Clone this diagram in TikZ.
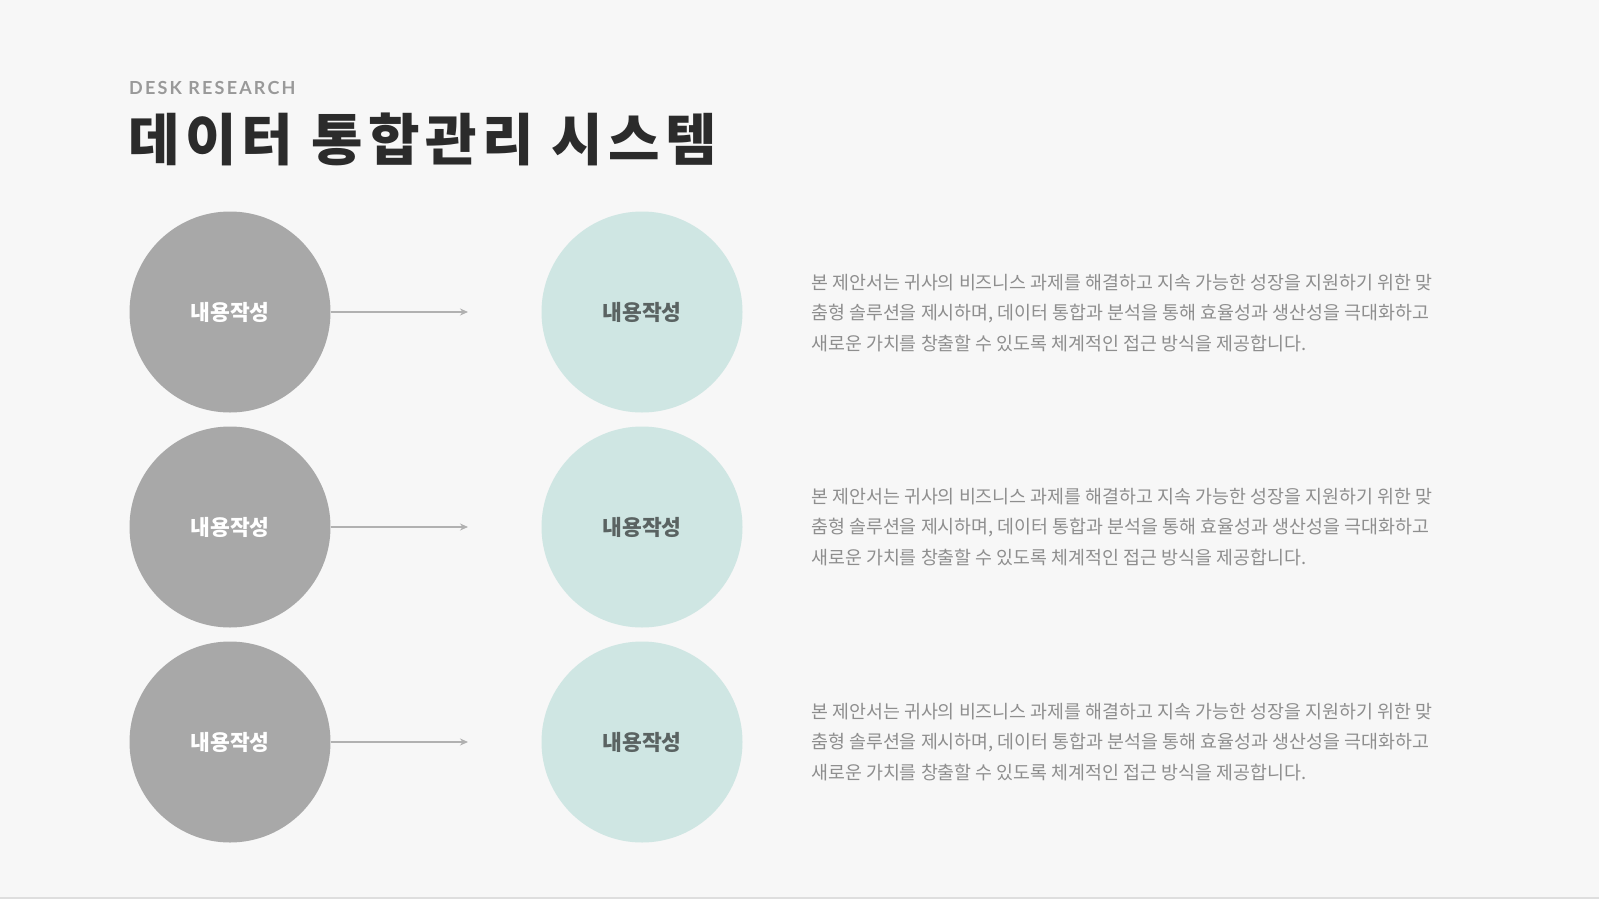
\documentclass[tikz,border=0pt]{standalone}
\usepackage{fontspec}
\newfontfamily\krfont{Noto Sans CJK KR}
\newfontfamily\latfont{Lato}
\usetikzlibrary{arrows.meta}
\definecolor{bgpage}{HTML}{F7F7F7}
\definecolor{circgray}{HTML}{A8A8A8}
\definecolor{circteal}{HTML}{CFE6E3}
\definecolor{labeldark}{HTML}{5A6362}
\definecolor{bodygray}{HTML}{8E8E8E}
\definecolor{titledark}{HTML}{2B2B2B}
\tikzset{
	graycirc/.style={circle, fill=circgray, minimum size=201bp, inner sep=0pt, text=white, font=\krfont\bfseries\fontsize{21.5bp}{24bp}\selectfont},
	tealcirc/.style={circle, fill=circteal, minimum size=201bp, inner sep=0pt, text=labeldark, font=\krfont\bfseries\fontsize{21.5bp}{24bp}\selectfont},
	linkarrow/.style={draw=circgray!90, line width=1.8bp, -{Stealth[length=8bp,width=7bp]}},
	bodytext/.style={anchor=west, align=left, inner sep=0pt, text=bodygray, font=\krfont\fontsize{18.4bp}{30.5bp}\selectfont}
}
\begin{document}
\begin{tikzpicture}[x=1bp, y=-1bp]
			%%%%% START %%%%%
			
			\fill[bgpage] (0, 0) rectangle (1599, 899);
			\useasboundingbox (0, 0) rectangle (1599, 899);
			\fill[black!13] (0, 897) rectangle (1599, 899);
			
			\node[anchor=base west, inner sep=0pt, text=black!40, font=\latfont\bfseries\fontsize{18bp}{20bp}\selectfont\addfontfeature{LetterSpace=12}] (kicker) at (129, 94.5) {DESK RESEARCH};
			\node[anchor=base west, inner sep=0pt, text=titledark, font=\krfont\bfseries\fontsize{56bp}{60bp}\selectfont\addfontfeature{LetterSpace=9.5}] (title) at (128, 160) {데이터 통합관리 시스템};
			
			\node[graycirc] (left1) at (230, 312) {내용작성};
			\node[tealcirc] (right1) at (642, 312) {내용작성};
			\coordinate (tip1) at (468, 312);
			\draw[linkarrow] (left1.east) -- (tip1);
			\node[bodytext] (body1) at (811, 313) {본 제안서는 귀사의 비즈니스 과제를 해결하고 지속 가능한 성장을 지원하기 위한 맞\\춤형 솔루션을 제시하며, 데이터 통합과 분석을 통해 효율성과 생산성을 극대화하고\\새로운 가치를 창출할 수 있도록 체계적인 접근 방식을 제공합니다.};
			
			\node[graycirc] (left2) at (230, 527) {내용작성};
			\node[tealcirc] (right2) at (642, 527) {내용작성};
			\coordinate (tip2) at (468, 527);
			\draw[linkarrow] (left2.east) -- (tip2);
			\node[bodytext] (body2) at (811, 527) {본 제안서는 귀사의 비즈니스 과제를 해결하고 지속 가능한 성장을 지원하기 위한 맞\\춤형 솔루션을 제시하며, 데이터 통합과 분석을 통해 효율성과 생산성을 극대화하고\\새로운 가치를 창출할 수 있도록 체계적인 접근 방식을 제공합니다.};
			
			\node[graycirc] (left3) at (230, 742) {내용작성};
			\node[tealcirc] (right3) at (642, 742) {내용작성};
			\coordinate (tip3) at (468, 742);
			\draw[linkarrow] (left3.east) -- (tip3);
			\node[bodytext] (body3) at (811, 742) {본 제안서는 귀사의 비즈니스 과제를 해결하고 지속 가능한 성장을 지원하기 위한 맞\\춤형 솔루션을 제시하며, 데이터 통합과 분석을 통해 효율성과 생산성을 극대화하고\\새로운 가치를 창출할 수 있도록 체계적인 접근 방식을 제공합니다.};
			
			%%%%% END %%%%%
\end{tikzpicture}
\end{document}
